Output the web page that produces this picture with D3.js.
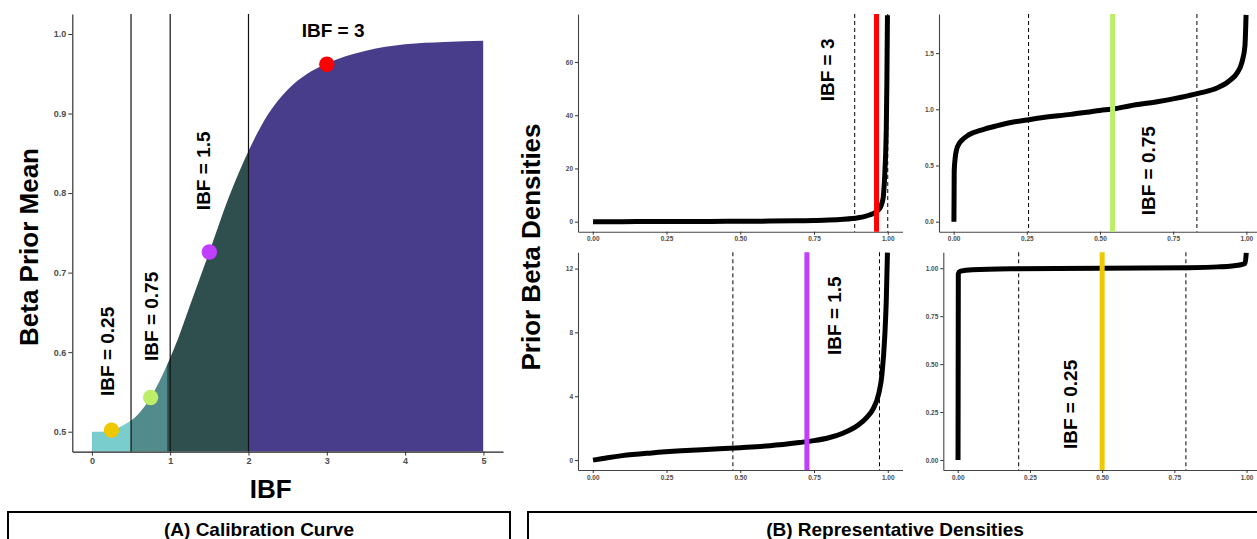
<!DOCTYPE html>
<html>
<head>
<meta charset="utf-8">
<script src="https://cdn.jsdelivr.net/npm/d3@7"></script>
<style>
  body { margin: 0; background: #fff; }
  svg { display: block; }
</style>
</head>
<body>
<svg id="fig" width="1257" height="539"></svg>
<script>
// ---------- (A) calibration curve: IBF -> mean of the Beta prior ----------
const ibfGrid   = [0, 0.1, 0.25, 0.4, 0.5, 0.6, 0.75, 0.9, 1.0, 1.1, 1.25, 1.5, 1.75, 2.0, 2.25, 2.5, 2.75, 3.0, 3.5, 4.0, 4.5, 5.0];
const priorMean = [0.5, 0.5, 0.5015, 0.508, 0.514, 0.523, 0.543, 0.571, 0.593, 0.617, 0.658, 0.726, 0.795, 0.853, 0.899, 0.93, 0.95, 0.963, 0.979, 0.987, 0.99, 0.9915];

const regionBreaks = [0, 0.5, 0.96, 2, 5];
const regionColors = ["#79CDCD", "#528B8B", "#2F4F4F", "#483D8B"];
const refLinesIBF  = [0.5, 1, 2];

const markerIBF    = [0.25, 0.75, 1.5, 3];
const markerMean   = [0.502, 0.543, 0.726, 0.962];
const markerColors = ["#EEC900", "#BCEE68", "#BF3EFF", "#FF0000"];
const markerLabels = ["IBF = 0.25", "IBF = 0.75", "IBF = 1.5", "IBF = 3"];

const xTicksA = [0, 1, 2, 3, 4, 5];
const yTicksA = [0.5, 0.6, 0.7, 0.8, 0.9, 1.0];

// ---------- (B) representative prior Beta densities ----------
const densX_ibf3 = [0.001, 0.1, 0.2, 0.3, 0.4, 0.5, 0.6, 0.7, 0.75, 0.8, 0.85, 0.88, 0.9, 0.92, 0.94, 0.96, 0.97, 0.98, 0.985, 0.99, 0.993, 0.995, 0.997, 0.999];
const densY_ibf3 = [0, 0.02, 0.04, 0.07, 0.1, 0.15, 0.22, 0.35, 0.45, 0.6, 0.9, 1.2, 1.5, 1.9, 2.6, 3.6, 4.6, 6.8, 9.5, 18, 26, 35, 52, 77.5];

const densX_ibf075 = [0.001, 0.002, 0.005, 0.01, 0.02, 0.03, 0.05, 0.1, 0.15, 0.2, 0.25, 0.3, 0.4, 0.5, 0.55, 0.6, 0.7, 0.8, 0.85, 0.9, 0.94, 0.97, 0.985, 0.995, 0.999];
const densY_ibf075 = [0, 0.45, 0.56, 0.64, 0.7, 0.73, 0.77, 0.82, 0.855, 0.885, 0.905, 0.925, 0.955, 0.99, 1.005, 1.03, 1.07, 1.12, 1.15, 1.19, 1.25, 1.33, 1.42, 1.56, 1.84];

const densX_ibf15 = [0.001, 0.05, 0.1, 0.2, 0.3, 0.4, 0.5, 0.6, 0.7, 0.75, 0.8, 0.85, 0.9, 0.93, 0.95, 0.97, 0.98, 0.99, 0.995, 0.999];
const densY_ibf15 = [0, 0.15, 0.28, 0.45, 0.58, 0.68, 0.78, 0.9, 1.1, 1.22, 1.4, 1.7, 2.2, 2.7, 3.2, 4.2, 5.3, 7.8, 10.0, 13.0];

const densX_ibf025 = [0.001, 0.002, 0.005, 0.01, 0.05, 0.2, 0.5, 0.8, 0.9, 0.95, 0.98, 0.995, 0.999];
const densY_ibf025 = [0, 0.97, 0.98, 0.985, 0.992, 0.997, 1.0, 1.003, 1.007, 1.012, 1.018, 1.025, 1.08];

const densMeans  = [0.962, 0.543, 0.726, 0.5];
const densSdLow  = [0.888, 0.256, 0.475, 0.211];
const densSdHigh = [1.0, 0.831, 0.972, 0.79];

const densTicksY = [[0, 20, 40, 60], [0, 0.5, 1.0, 1.5], [0, 4, 8, 12], [0, 0.25, 0.5, 0.75, 1.0]];
const densTicksX = [0, 0.25, 0.5, 0.75, 1.0];

// ---------- drawing ----------
const W = 1257, H = 539;
const FONT = "'Liberation Sans', Arial, Helvetica, sans-serif";
const svg = d3.select("#fig");
const defs = svg.append("defs");

function styleAxis(g, fontSize, lineColor) {
  g.select(".domain").attr("stroke", lineColor).attr("stroke-width", 1.1);
  g.selectAll(".tick line").attr("stroke", "#333").attr("stroke-width", 1);
  g.selectAll(".tick text")
    .attr("fill", "#4d4d4d")
    .attr("font-family", FONT)
    .attr("font-weight", "bold")
    .attr("font-size", fontSize);
}

// Panel A
const xA = d3.scaleLinear().domain([-0.25, 5.25]).range([72.3, 503]);
const yA = d3.scaleLinear().domain([0.475, 1.025]).range([451.6, 14.1]);
const curvePts = ibfGrid.map((x, i) => [x, priorMean[i]]);
const areaA = d3.area()
  .x(d => xA(d[0]))
  .y0(yA.range()[0])
  .y1(d => yA(d[1]))
  .curve(d3.curveMonotoneX);

const gA = svg.append("g");
regionColors.forEach((c, i) => {
  const id = "band" + i;
  defs.append("clipPath").attr("id", id).append("rect")
    .attr("x", xA(regionBreaks[i]))
    .attr("width", xA(regionBreaks[i + 1]) - xA(regionBreaks[i]))
    .attr("y", 0).attr("height", H);
  gA.append("path").datum(curvePts)
    .attr("d", areaA)
    .attr("fill", c)
    .attr("clip-path", `url(#${id})`);
});

gA.selectAll("line.ref").data(refLinesIBF).join("line")
  .attr("class", "ref")
  .attr("x1", d => xA(d)).attr("x2", d => xA(d))
  .attr("y1", yA.range()[1]).attr("y2", yA.range()[0])
  .attr("stroke", "#111").attr("stroke-width", 1.2);

const axA_y = gA.append("g").attr("transform", `translate(${xA.range()[0]},0)`)
  .call(d3.axisLeft(yA).tickValues(yTicksA).tickFormat(d3.format(".1f")).tickSize(4).tickSizeOuter(0).tickPadding(2));
styleAxis(axA_y, 9, "#222");
const axA_x = gA.append("g").attr("transform", `translate(0,${yA.range()[0]})`)
  .call(d3.axisBottom(xA).tickValues(xTicksA).tickFormat(d3.format("d")).tickSize(4).tickSizeOuter(0).tickPadding(2));
styleAxis(axA_x, 9, "#222");

gA.selectAll("circle.mk").data(markerIBF).join("circle")
  .attr("class", "mk")
  .attr("cx", d => xA(d))
  .attr("cy", (d, i) => yA(markerMean[i]))
  .attr("r", 7.7)
  .attr("fill", (d, i) => markerColors[i]);

// label anchors (data coordinates) and orientation
const labelPosA = [
  { x: 0.2,  y: 0.601, rot: -90 },
  { x: 0.76, y: 0.645, rot: -90 },
  { x: 1.42, y: 0.828, rot: -90 },
  { x: 3.08, y: 1.004, rot: 0 }
];
gA.selectAll("text.lbl").data(markerLabels).join("text")
  .attr("class", "lbl")
  .attr("transform", (d, i) => `translate(${xA(labelPosA[i].x)},${yA(labelPosA[i].y)}) rotate(${labelPosA[i].rot})`)
  .attr("text-anchor", "middle")
  .attr("dominant-baseline", "central")
  .attr("font-family", FONT).attr("font-weight", "bold").attr("font-size", 19)
  .attr("fill", "#000")
  .text(d => d);

svg.append("text")
  .attr("transform", "translate(28.5,247) rotate(-90)")
  .attr("text-anchor", "middle").attr("dominant-baseline", "central")
  .attr("font-family", FONT).attr("font-weight", "bold").attr("font-size", 26)
  .text("Beta Prior Mean");
svg.append("text")
  .attr("x", 270.7).attr("y", 489)
  .attr("text-anchor", "middle").attr("dominant-baseline", "central")
  .attr("font-family", FONT).attr("font-weight", "bold").attr("font-size", 26)
  .text("IBF");

// Panel B: four density plots
const densSeries = [
  { x: densX_ibf3,   y: densY_ibf3 },
  { x: densX_ibf075, y: densY_ibf075 },
  { x: densX_ibf15,  y: densY_ibf15 },
  { x: densX_ibf025, y: densY_ibf025 }
];
const densLayout = [
  { xr: [578, 902.5],   yr: [231.7, 14],  yd: [-3.76, 78],     fmt: "d",   lab: { x: 0.797, y: 57 } },
  { xr: [939, 1261],    yr: [231.7, 14],  yd: [-0.089, 1.848], fmt: ".1f", lab: { x: 0.666, y: 0.454 } },
  { xr: [578, 902.5],   yr: [470, 252.3], yd: [-0.62, 13.02],  fmt: "d",   lab: { x: 0.819, y: 9.05 } },
  { xr: [943.3, 1261],  yr: [470, 252.3], yd: [-0.052, 1.083], fmt: ".2f", lab: { x: 0.389, y: 0.29 } }
];
const densLabels = ["IBF = 3", "IBF = 0.75", "IBF = 1.5", "IBF = 0.25"];
const densColors = ["#FF0000", "#BCEE68", "#BF3EFF", "#EEC900"];

densSeries.forEach((s, i) => {
  const L = densLayout[i];
  const x = d3.scaleLinear().domain([-0.05, 1.05]).range(L.xr);
  const y = d3.scaleLinear().domain(L.yd).range(L.yr);
  const g = svg.append("g");

  const ax = g.append("g").attr("transform", `translate(${L.xr[0]},0)`)
    .call(d3.axisLeft(y).tickValues(densTicksY[i]).tickFormat(d3.format(L.fmt)).tickSize(3).tickSizeOuter(0).tickPadding(2));
  styleAxis(ax, 6.5, "#444");
  const bx = g.append("g").attr("transform", `translate(0,${L.yr[0]})`)
    .call(d3.axisBottom(x).tickValues(densTicksX).tickFormat(d3.format(".2f")).tickSize(3).tickSizeOuter(0).tickPadding(2));
  styleAxis(bx, 6.5, "#444");

  // mean +/- sd guides
  g.selectAll("line.sd").data([densSdLow[i], densSdHigh[i]]).join("line")
    .attr("class", "sd")
    .attr("x1", d => x(d)).attr("x2", d => x(d))
    .attr("y1", L.yr[1]).attr("y2", L.yr[0])
    .attr("stroke", "#000").attr("stroke-width", 1)
    .attr("stroke-dasharray", "4,3");

  const pts = s.x.map((v, k) => [v, s.y[k]]);
  g.append("path").datum(pts)
    .attr("d", d3.line().x(d => x(d[0])).y(d => y(d[1])).curve(d3.curveMonotoneX))
    .attr("fill", "none").attr("stroke", "#000")
    .attr("stroke-width", 5).attr("stroke-linejoin", "round");

  g.append("line")
    .attr("x1", x(densMeans[i])).attr("x2", x(densMeans[i]))
    .attr("y1", L.yr[1]).attr("y2", L.yr[0])
    .attr("stroke", densColors[i]).attr("stroke-width", 5);

  g.append("text")
    .attr("transform", `translate(${x(L.lab.x)},${y(L.lab.y)}) rotate(-90)`)
    .attr("text-anchor", "middle").attr("dominant-baseline", "central")
    .attr("font-family", FONT).attr("font-weight", "bold").attr("font-size", 19)
    .text(densLabels[i]);
});

svg.append("text")
  .attr("transform", "translate(531,247) rotate(-90)")
  .attr("text-anchor", "middle").attr("dominant-baseline", "central")
  .attr("font-family", FONT).attr("font-weight", "bold").attr("font-size", 26)
  .text("Prior Beta Densities");

// caption boxes
const captions = [
  { text: "(A) Calibration Curve", x0: 8, x1: 510 },
  { text: "(B) Representative Densities", x0: 528, x1: 1262 }
];
captions.forEach(c => {
  svg.append("rect")
    .attr("x", c.x0).attr("y", 512)
    .attr("width", c.x1 - c.x0).attr("height", 40)
    .attr("fill", "none").attr("stroke", "#000").attr("stroke-width", 2);
  svg.append("text")
    .attr("x", (c.x0 + c.x1) / 2).attr("y", 529)
    .attr("text-anchor", "middle").attr("dominant-baseline", "central")
    .attr("font-family", FONT).attr("font-weight", "bold").attr("font-size", 19)
    .text(c.text);
});
</script>
</body>
</html>
